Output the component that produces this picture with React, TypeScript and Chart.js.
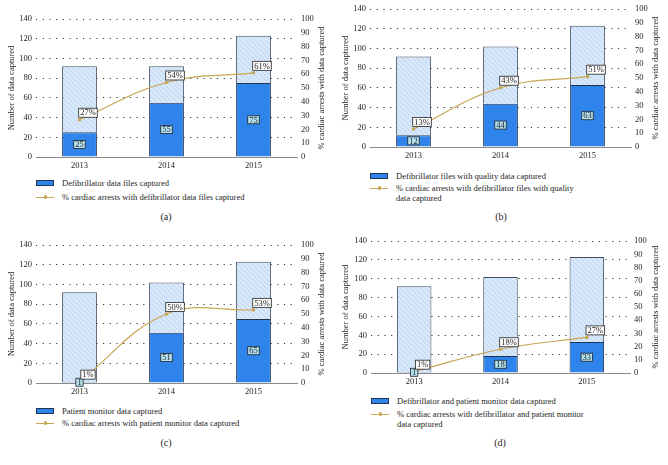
import React, { useEffect, useRef } from 'react';
import { Chart, registerables } from 'chart.js';

Chart.register(...registerables);

// ---------- data ----------
const YEARS = ['2013', '2014', '2015'];

const TOTAL_A = [92, 92, 123];
const CAPTURED_A = [25, 55, 75];
const PCT_A = [27, 54, 61];

const TOTAL_B = [92, 102, 123];
const CAPTURED_B = [12, 44, 63];
const PCT_B = [13, 43, 51];

const TOTAL_C = [92, 102, 123];
const CAPTURED_C = [1, 51, 65];
const PCT_C = [1, 50, 53];

const TOTAL_D = [92, 102, 123];
const CAPTURED_D = [1, 18, 33];
const PCT_D = [1, 18, 27];

const LEFT_MAX = 140;
const LEFT_STEP = 20;
const RIGHT_MAX = 100;
const RIGHT_STEP = 10;

const LEFT_TITLE = 'Number of data captured';
const RIGHT_TITLE = '% cardiac arrests with data captured';

const LEGEND_BAR_A = 'Defibrillator data files captured';
const LEGEND_LINE_A = ['% cardiac arrests with defibrillator data files captured'];
const LEGEND_BAR_B = 'Defibrillator files with quality data captured';
const LEGEND_LINE_B = ['% cardiac arrests with defibrillator files with quality', 'data captured'];
const LEGEND_BAR_C = 'Patient monitor data captured';
const LEGEND_LINE_C = ['% cardiac arrests with patient monitor data captured'];
const LEGEND_BAR_D = 'Defibrillator and patient monitor data captured';
const LEGEND_LINE_D = ['% cardiac arrests with defibrillator and patient monitor', 'data captured'];

// ---------- styles ----------
const FONT = '"Liberation Serif", "DejaVu Serif", serif';
const TEXT = '#1e1e1e';
const BLUE = '#2e84ea';
const BLUE_BORDER = '#1d3552';
const LIGHT_BORDER = '#3f4d5e';
const LINE_COLOR = '#c8a652';
const NUM_BG = '#b4e2f1';

function makeHatch(): CanvasPattern | string {
  const c = document.createElement('canvas');
  c.width = 5;
  c.height = 5;
  const g = c.getContext('2d');
  if (!g) return '#d4e5fa';
  g.fillStyle = '#d8e8fb';
  g.fillRect(0, 0, 5, 5);
  g.strokeStyle = '#bfd4f0';
  g.lineWidth = 1;
  g.beginPath();
  g.moveTo(-1, -1);
  g.lineTo(6, 6);
  g.stroke();
  const p = g.createPattern(c, 'repeat');
  return p || '#d4e5fa';
}

type PanelDef = {
  x0: number;
  y0: number;
  areaLeft: number;
  areaRight: number;
  areaTop: number;
  areaBottom: number;
  total: number[];
  captured: number[];
  pct: number[];
  legendBar: string;
  legendLine: string[];
  boxY: number;
  lineY: number;
  caption: string;
  captionX: number;
  captionY: number;
};

const PANELS: PanelDef[] = [
  { x0: 0, y0: 0, areaLeft: 36, areaRight: 297, areaTop: 19, areaBottom: 157,
    total: TOTAL_A, captured: CAPTURED_A, pct: PCT_A, legendBar: LEGEND_BAR_A, legendLine: LEGEND_LINE_A,
    boxY: 183, lineY: 197, caption: '(a)', captionX: 166, captionY: 217 },
  { x0: 334, y0: 0, areaLeft: 370, areaRight: 631, areaTop: 9, areaBottom: 147,
    total: TOTAL_B, captured: CAPTURED_B, pct: PCT_B, legendBar: LEGEND_BAR_B, legendLine: LEGEND_LINE_B,
    boxY: 176, lineY: 188, caption: '(b)', captionX: 501, captionY: 217 },
  { x0: 0, y0: 232, areaLeft: 36, areaRight: 297, areaTop: 245, areaBottom: 383,
    total: TOTAL_C, captured: CAPTURED_C, pct: PCT_C, legendBar: LEGEND_BAR_C, legendLine: LEGEND_LINE_C,
    boxY: 411, lineY: 423, caption: '(c)', captionX: 166, captionY: 443 },
  { x0: 334, y0: 232, areaLeft: 371, areaRight: 630, areaTop: 235, areaBottom: 373,
    total: TOTAL_D, captured: CAPTURED_D, pct: PCT_D, legendBar: LEGEND_BAR_D, legendLine: LEGEND_LINE_D,
    boxY: 401, lineY: 414, caption: '(d)', captionX: 500, captionY: 443 },
];

const PANEL_W = 334;
const XAXIS_H = 15;

const labelPlugin = {
  id: 'boxLabels',
  afterDatasetsDraw(chart: any) {
    const ctx = chart.ctx as CanvasRenderingContext2D;
    ctx.save();
    ctx.font = `8.5px ${FONT}`;
    ctx.textAlign = 'center';
    ctx.textBaseline = 'middle';
    const barMeta = chart.getDatasetMeta(0);
    const barData = chart.data.datasets[0].data as number[];
    barMeta.data.forEach((el: any, i: number) => {
      const p = el.getProps(['x', 'y', 'base'], true);
      const cy = (p.y + p.base) / 2;
      const txt = String(barData[i]);
      const w = ctx.measureText(txt).width + 3;
      const h = 8;
      ctx.fillStyle = NUM_BG;
      ctx.fillRect(p.x - w / 2, cy - h / 2, w, h);
      ctx.strokeStyle = '#222';
      ctx.lineWidth = 0.8;
      ctx.strokeRect(p.x - w / 2, cy - h / 2, w, h);
      ctx.fillStyle = TEXT;
      ctx.fillText(txt, p.x, cy + 0.5);
    });
    const lineMeta = chart.getDatasetMeta(2);
    const lineData = chart.data.datasets[2].data as number[];
    lineMeta.data.forEach((el: any, i: number) => {
      const p = el.getProps(['x', 'y'], true);
      const cx = p.x + 8.5;
      const cy = p.y - 7;
      const txt = `${lineData[i]}%`;
      const w = ctx.measureText(txt).width + 3;
      const h = 9;
      ctx.fillStyle = '#ffffff';
      ctx.fillRect(cx - w / 2, cy - h / 2, w, h);
      ctx.strokeStyle = '#222';
      ctx.lineWidth = 0.8;
      ctx.strokeRect(cx - w / 2, cy - h / 2, w, h);
      ctx.fillStyle = TEXT;
      ctx.fillText(txt, cx, cy + 0.5);
    });
    ctx.restore();
  },
};

const titlePlugin = {
  id: 'axisTitles',
  afterDraw(chart: any) {
    const ctx = chart.ctx as CanvasRenderingContext2D;
    const a = chart.chartArea;
    const cy = (a.top + a.bottom) / 2;
    ctx.save();
    ctx.font = `8.5px ${FONT}`;
    ctx.fillStyle = TEXT;
    ctx.textAlign = 'center';
    ctx.textBaseline = 'middle';
    ctx.translate(12, cy);
    ctx.rotate(-Math.PI / 2);
    ctx.fillText(LEFT_TITLE, 0, 0);
    ctx.restore();
    ctx.save();
    ctx.font = `8.5px ${FONT}`;
    ctx.fillStyle = TEXT;
    ctx.textAlign = 'center';
    ctx.textBaseline = 'middle';
    ctx.translate(322, cy);
    ctx.rotate(-Math.PI / 2);
    ctx.fillText(RIGHT_TITLE, 0, 0);
    ctx.restore();
  },
};

function Panel({ def }: { def: PanelDef }) {
  const ref = useRef<HTMLCanvasElement | null>(null);
  const canvasH = def.areaBottom - def.y0 + XAXIS_H;
  const leftW = def.areaLeft - def.x0;
  const rightW = def.x0 + PANEL_W - def.areaRight;

  useEffect(() => {
    if (!ref.current) return;
    const hatch = makeHatch();
    const rest = def.total.map((t, i) => t - def.captured[i]);
    const chart = new Chart(ref.current, {
      type: 'bar',
      data: {
        labels: YEARS,
        datasets: [
          {
            type: 'bar',
            data: def.captured,
            backgroundColor: BLUE,
            borderColor: BLUE_BORDER,
            borderWidth: 1,
            stack: 's',
            yAxisID: 'y',
            order: 2,
            categoryPercentage: 1,
            barPercentage: 0.4,
          },
          {
            type: 'bar',
            data: rest,
            backgroundColor: hatch as any,
            borderColor: LIGHT_BORDER,
            borderWidth: 1,
            stack: 's',
            yAxisID: 'y',
            order: 2,
            categoryPercentage: 1,
            barPercentage: 0.4,
          },
          {
            type: 'line',
            data: def.pct,
            yAxisID: 'y1',
            borderColor: LINE_COLOR,
            backgroundColor: LINE_COLOR,
            borderWidth: 1.2,
            pointRadius: 1.8,
            pointBorderWidth: 0,
            tension: 0.4,
            order: 1,
          } as any,
        ],
      },
      options: {
        animation: false,
        responsive: false,
        maintainAspectRatio: false,
        layout: { padding: { top: def.areaTop - def.y0, bottom: 0, left: 0, right: 0 } },
        plugins: { legend: { display: false }, tooltip: { enabled: false } },
        scales: {
          x: {
            stacked: true,
            grid: { display: false, drawTicks: false },
            border: { display: true, color: '#8a8a8a', width: 1 },
            ticks: { padding: 4, color: TEXT, font: { family: FONT, size: 8.5 } },
            afterFit: (s: any) => { s.height = XAXIS_H; },
          },
          y: {
            stacked: true,
            position: 'left',
            min: 0,
            max: LEFT_MAX,
            grid: { display: true, drawTicks: false, color: '#333', lineWidth: 1 },
            border: { display: false, dash: [1.2, 5.5] },
            ticks: { stepSize: LEFT_STEP, autoSkip: false, padding: 4, color: TEXT, font: { family: FONT, size: 8.5 } },
            afterFit: (s: any) => { s.width = leftW; },
          },
          y1: {
            position: 'right',
            min: 0,
            max: RIGHT_MAX,
            grid: { display: false, drawTicks: false },
            border: { display: false },
            ticks: { stepSize: RIGHT_STEP, autoSkip: false, padding: 4, color: TEXT, font: { family: FONT, size: 8.5 } },
            afterFit: (s: any) => { s.width = rightW; },
          },
        },
      } as any,
      plugins: [labelPlugin, titlePlugin],
    });
    return () => chart.destroy();
  }, []);

  const textStyle: React.CSSProperties = {
    position: 'absolute',
    fontFamily: FONT,
    fontSize: '8.5px',
    lineHeight: '10px',
    color: TEXT,
    whiteSpace: 'nowrap',
  };

  const textLeft = def.areaLeft + 26;

  return (
    <>
      <canvas
        ref={ref}
        width={PANEL_W}
        height={canvasH}
        style={{ position: 'absolute', left: def.x0, top: def.y0, width: PANEL_W, height: canvasH }}
      />
      <div style={{ position: 'absolute', left: def.areaLeft, top: def.boxY - 3, width: 18, height: 6, background: BLUE, border: `1px solid ${BLUE_BORDER}`, boxSizing: 'border-box' }} />
      <div style={{ ...textStyle, left: textLeft, top: def.boxY - 5 }}>{def.legendBar}</div>
      <div style={{ position: 'absolute', left: def.areaLeft, top: def.lineY - 0.5, width: 18, height: 1.2, background: LINE_COLOR }} />
      <div style={{ position: 'absolute', left: def.areaLeft + 7.5, top: def.lineY - 1.8, width: 3.6, height: 3.6, borderRadius: '50%', background: LINE_COLOR }} />
      <div style={{ ...textStyle, left: textLeft, top: def.lineY - 5 }}>
        {def.legendLine.map((l, i) => (<div key={i}>{l}</div>))}
      </div>
      <div style={{ ...textStyle, fontSize: '10px', lineHeight: '12px', left: def.captionX - 20, width: 40, textAlign: 'center', top: def.captionY - 6 }}>
        {def.caption}
      </div>
    </>
  );
}

export default function App() {
  return (
    <div style={{ position: 'fixed', left: 0, top: 0, width: 668, height: 465, background: '#ffffff', overflow: 'hidden' }}>
      {PANELS.map((p, i) => (<Panel key={i} def={p} />))}
    </div>
  );
}
